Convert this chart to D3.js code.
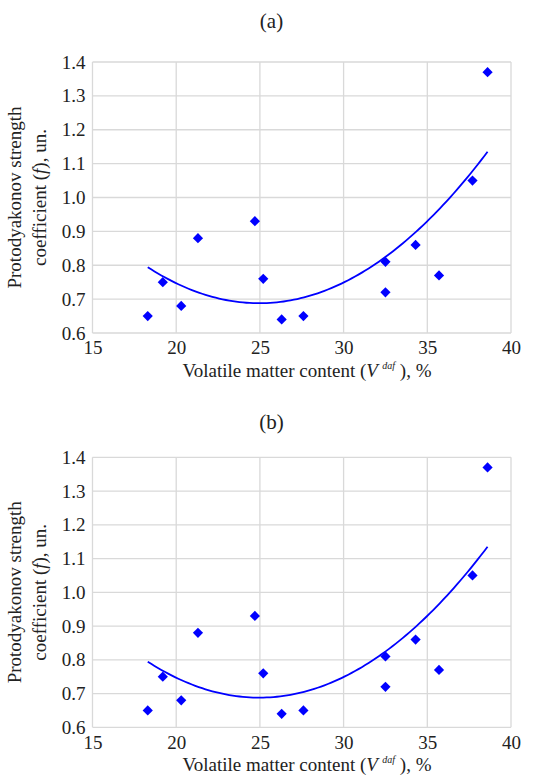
<!DOCTYPE html>
<html><head><meta charset="utf-8">
<script src="https://cdn.jsdelivr.net/npm/d3@7"></script>
<style>
html,body{margin:0;padding:0;background:#fff;}
svg text{font-family:'Liberation Serif','DejaVu Sans Mono';fill:#222;}
</style></head>
<body>
<svg id="chart" width="541" height="778"></svg>
<script>
// Data (both panels show the same data)
const panelTitles = ["(a)", "(b)"];
const volatileMatter = [18.3, 19.2, 20.3, 21.3, 24.7, 25.2, 26.3, 27.6, 32.5, 32.5, 34.3, 35.7, 37.7, 38.6];
const strengthCoef   = [0.65, 0.75, 0.68, 0.88, 0.93, 0.76, 0.64, 0.65, 0.81, 0.72, 0.86, 0.77, 1.05, 1.37];
const xTicks = [15, 20, 25, 30, 35, 40];
const yTicks = [0.6, 0.7, 0.8, 0.9, 1.0, 1.1, 1.2, 1.3, 1.4];

// Quadratic least-squares trendline (polynomial trendline of order 2)
function quadFit(xs, ys) {
  let S = [0,0,0,0,0], T = [0,0,0];
  for (let i = 0; i < xs.length; i++) {
    const x = xs[i], y = ys[i];
    for (let k = 0; k < 5; k++) S[k] += Math.pow(x, k);
    for (let k = 0; k < 3; k++) T[k] += y * Math.pow(x, k);
  }
  const A = [[S[0],S[1],S[2],T[0]],[S[1],S[2],S[3],T[1]],[S[2],S[3],S[4],T[2]]];
  for (let i = 0; i < 3; i++) {
    for (let j = i+1; j < 3; j++) {
      const f = A[j][i]/A[i][i];
      for (let k = i; k < 4; k++) A[j][k] -= f*A[i][k];
    }
  }
  const c = [0,0,0];
  for (let i = 2; i >= 0; i--) {
    let s = A[i][3];
    for (let k = i+1; k < 3; k++) s -= A[i][k]*c[k];
    c[i] = s/A[i][i];
  }
  return c;
}
const coef = quadFit(volatileMatter, strengthCoef);
const points = volatileMatter.map((x, i) => ({x, y: strengthCoef[i]}));

const svg = d3.select("#chart");
const left = 92.5, right = 511;
const panels = [
  {title: panelTitles[0], titleY: 28, top: 62, bottom: 333},
  {title: panelTitles[1], titleY: 429, top: 457.3, bottom: 727.3}
];

panels.forEach(p => {
  const g = svg.append("g");
  const x = d3.scaleLinear().domain([15, 40]).range([left, right]);
  const y = d3.scaleLinear().domain([0.6, 1.4]).range([p.bottom, p.top]);

  g.append("text").attr("x", 271.5).attr("y", p.titleY)
    .attr("text-anchor", "middle").style("font-size", "21px").text(p.title);

  // grid
  g.append("g").selectAll("line").data(yTicks).join("line")
    .attr("x1", left).attr("x2", right)
    .attr("y1", d => y(d)).attr("y2", d => y(d))
    .attr("stroke", "#d9d9d9").attr("stroke-width", 1.3);
  g.append("g").selectAll("line").data(xTicks).join("line")
    .attr("x1", d => x(d)).attr("x2", d => x(d))
    .attr("y1", p.top).attr("y2", p.bottom)
    .attr("stroke", "#d9d9d9").attr("stroke-width", 1.3);

  // axes (labels only)
  const yAxis = d3.axisLeft(y).tickValues(yTicks).tickFormat(d3.format(".1f")).tickSize(0).tickPadding(7);
  const ya = g.append("g").attr("transform", `translate(${left},0)`).call(yAxis);
  ya.attr("font-family", null).attr("font-size", null);
  ya.selectAll("text").style("font-size", "19px");
  ya.select(".domain").remove();

  const xAxis = d3.axisBottom(x).tickValues(xTicks).tickSize(0).tickPadding(8);
  const xa = g.append("g").attr("transform", `translate(0,${p.bottom})`).call(xAxis);
  xa.attr("font-family", null).attr("font-size", null);
  xa.selectAll("text").style("font-size", "19px");
  xa.select(".domain").remove();

  // trendline
  const xmin = d3.min(volatileMatter), xmax = d3.max(volatileMatter);
  const curve = d3.range(0, 101).map(i => {
    const xv = xmin + (xmax - xmin) * i / 100;
    return {x: xv, y: coef[0] + coef[1]*xv + coef[2]*xv*xv};
  });
  g.append("path").datum(curve)
    .attr("d", d3.line().x(d => x(d.x)).y(d => y(d.y)))
    .attr("fill", "none").attr("stroke", "#0000ff").attr("stroke-width", 1.8);

  // markers
  g.append("g").selectAll("path").data(points).join("path")
    .attr("d", d3.symbol().type(d3.symbolSquare).size(52))
    .attr("transform", d => `translate(${x(d.x)},${y(d.y)}) rotate(45)`)
    .attr("fill", "#0000ff");

  // x label
  const xl = g.append("text").attr("x", 307).attr("y", p.bottom + 44)
    .attr("text-anchor", "middle").style("font-size", "19px");
  xl.append("tspan").text("Volatile matter content (");
  xl.append("tspan").style("font-style", "italic").text("V ");
  xl.append("tspan").style("font-style", "italic").style("font-size", "10px").attr("dy", -8).text("daf");
  xl.append("tspan").attr("dy", 8).text(" ), %");

  // y label
  const cy = (p.top + p.bottom) / 2;
  const yl = g.append("text").attr("transform", `translate(21,${cy}) rotate(-90)`)
    .attr("text-anchor", "middle").style("font-size", "19px");
  yl.append("tspan").text("Protodyakonov strength");
  const l2 = g.append("text").attr("transform", `translate(46,${cy}) rotate(-90)`)
    .attr("text-anchor", "middle").style("font-size", "19px");
  l2.append("tspan").text("coefficient (");
  l2.append("tspan").style("font-style", "italic").text("f");
  l2.append("tspan").text("), un.");
});
</script>
</body></html>
